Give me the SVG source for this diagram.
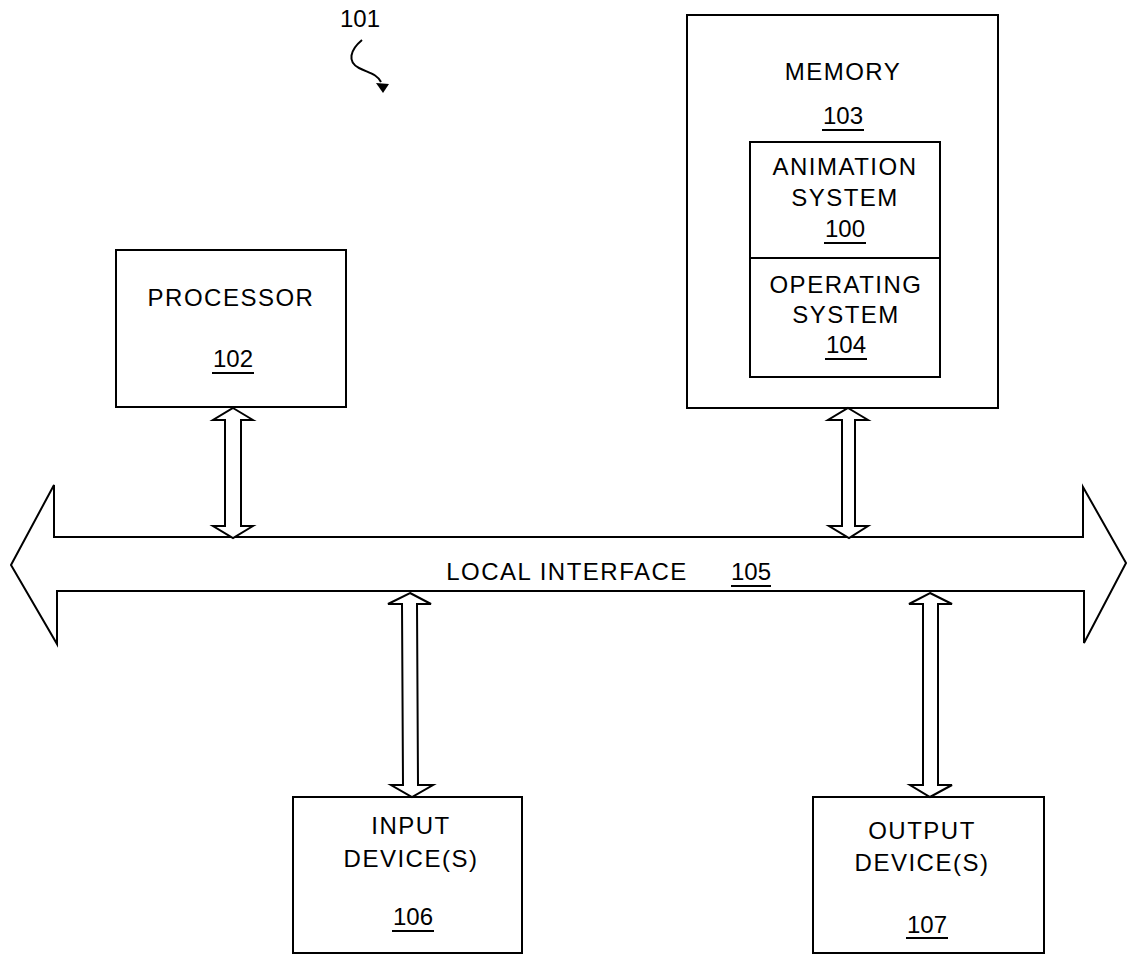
<svg xmlns="http://www.w3.org/2000/svg" width="1128" height="955" viewBox="0 0 1128 955">
<style>
.box{fill:#fff;stroke:#000;stroke-width:2}
.arr{fill:#fff;stroke:#000;stroke-width:2;stroke-linejoin:miter}
.t{font-family:"Liberation Sans",Arial,sans-serif;font-size:24px;letter-spacing:1.5px;text-anchor:middle;fill:#000}
.u{stroke:#000;stroke-width:2}
</style>
<rect width="1128" height="955" fill="#fff"/>
<g id="label101">
<text class="t" x="360" y="27" style="letter-spacing:0">101</text>
<path d="M362 40 C350 50 347 62 359 68 C369 73 377 74 381 82" fill="none" stroke="#000" stroke-width="2"/>
<polygon points="376,83 389,84 383,93" fill="#000"/>
</g>
<g id="bus">
<polygon class="arr" points="11,565 54,485 54,537 1083,537 1083,487 1126,563 1084,643 1084,591 57,591 57,644"/>
<text class="t" x="567" y="580">LOCAL INTERFACE</text>
<text class="t" x="751" y="580" style="letter-spacing:0">105</text>
<line class="u" x1="731" y1="586" x2="771" y2="586"/>
</g>
<g id="processor">
<rect class="box" x="116" y="250" width="230" height="157"/>
<text class="t" x="231" y="306">PROCESSOR</text>
<text class="t" x="233" y="367" style="letter-spacing:0">102</text>
<line class="u" x1="212" y1="373" x2="254" y2="373"/>
</g>
<g id="memory">
<rect class="box" x="687" y="15" width="311" height="393"/>
<text class="t" x="843" y="80">MEMORY</text>
<text class="t" x="843" y="124" style="letter-spacing:0">103</text>
<line class="u" x1="822" y1="130" x2="864" y2="130"/>
</g>
<g id="animation">
<rect class="box" x="750" y="142" width="190" height="116"/>
<text class="t" x="845" y="175">ANIMATION</text>
<text class="t" x="845" y="206">SYSTEM</text>
<text class="t" x="845" y="237" style="letter-spacing:0">100</text>
<line class="u" x1="824" y1="243" x2="866" y2="243"/>
</g>
<g id="os">
<rect class="box" x="750" y="258" width="190" height="119"/>
<text class="t" x="846" y="293">OPERATING</text>
<text class="t" x="846" y="323">SYSTEM</text>
<text class="t" x="846" y="353" style="letter-spacing:0">104</text>
<line class="u" x1="825" y1="359" x2="867" y2="359"/>
</g>
<g id="input">
<rect class="box" x="293" y="797" width="229" height="156"/>
<text class="t" x="411" y="834">INPUT</text>
<text class="t" x="411" y="867">DEVICE(S)</text>
<text class="t" x="413" y="925" style="letter-spacing:0">106</text>
<line class="u" x1="392" y1="931" x2="434" y2="931"/>
</g>
<g id="output">
<rect class="box" x="813" y="797" width="231" height="156"/>
<text class="t" x="922" y="839">OUTPUT</text>
<text class="t" x="922" y="871">DEVICE(S)</text>
<text class="t" x="927" y="933" style="letter-spacing:0">107</text>
<line class="u" x1="906" y1="938" x2="948" y2="938"/>
</g>
<g id="connectors">
<polygon class="arr" points="233,408 253,420 241,420 241,526 253,526 233,538 213,526 225,526 225,420 213,420"/>
<polygon class="arr" points="848,408 868,420 855,420 855,526 868,526 849,538 829,526 842,526 842,420 828,420"/>
<polygon class="arr" points="410,593 431,604 417,604 418,785 433,785 412,797 391,785 403,785 402,604 388,604"/>
<polygon class="arr" points="930,593 952,604 938,604 938,785 952,785 930,797 910,785 923,785 923,604 909,604"/>
</g>
</svg>
